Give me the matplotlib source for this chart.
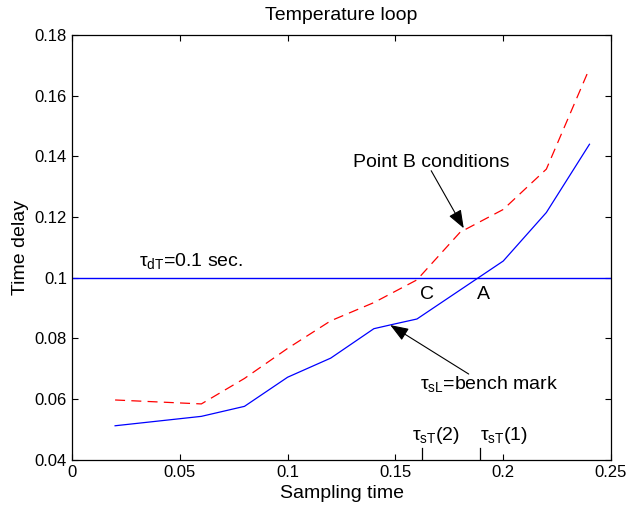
import matplotlib
matplotlib.use("Agg")
import matplotlib.pyplot as plt

plt.rcParams['font.family'] = ['Liberation Sans', 'DejaVu Sans']
plt.rcParams['mathtext.fontset'] = 'custom'
plt.rcParams['mathtext.rm'] = 'Liberation Sans'
plt.rcParams['mathtext.it'] = 'Liberation Sans'
plt.rcParams['mathtext.bf'] = 'Liberation Sans:bold'

# bench mark (solid blue)
x_bench = [0.02, 0.06, 0.08, 0.10, 0.12, 0.14, 0.148, 0.16, 0.20, 0.22, 0.24]
y_bench = [0.0512, 0.0543, 0.0576, 0.0672, 0.0735, 0.0832, 0.0845, 0.0864, 0.1055, 0.1215, 0.1440]

# point B conditions (dashed red)
x_pointb = [0.02, 0.06, 0.08, 0.10, 0.12, 0.14, 0.16, 0.18, 0.20, 0.22, 0.24]
y_pointb = [0.0597, 0.0584, 0.0668, 0.0767, 0.0858, 0.0918, 0.0993, 0.1150, 0.1225, 0.1358, 0.1690]

tau_dT = 0.1
tau_sT = [0.189, 0.1623]   # tau_sT(1), tau_sT(2)

xticks = [0, 0.05, 0.1, 0.15, 0.2, 0.25]
xticklabels = ['0', '0.05', '0.1', '0.15', '0.2', '0.25']
yticks = [0.04, 0.06, 0.08, 0.1, 0.12, 0.14, 0.16, 0.18]
yticklabels = ['0.04', '0.06', '0.08', '0.1', '0.12', '0.14', '0.16', '0.18']

fig = plt.figure(figsize=(6.28, 5.08), dpi=100)
ax = fig.add_axes([0.1146, 0.095, 0.973 - 0.1146, 0.931 - 0.095])

ax.plot(x_bench, y_bench, color='#0000ff', lw=0.9)
ax.plot(x_pointb, y_pointb, color='#ff0000', lw=0.9, linestyle=(0, (8, 5)))
ax.axhline(tau_dT, color='#0000ff', lw=1.0)

# tau_sT markers on the bottom axis
for xv in tau_sT:
    ax.plot([xv, xv], [0.04, 0.044], color='k', lw=0.9)

ax.set_xlim(0, 0.25)
ax.set_ylim(0.04, 0.18)
ax.set_xticks(xticks)
ax.set_xticklabels(xticklabels)
ax.set_yticks(yticks)
ax.set_yticklabels(yticklabels)
ax.tick_params(direction='in', top=True, right=True, length=4, width=0.8, labelsize=12)
for s in ax.spines.values():
    s.set_linewidth(0.9)

ax.set_title('Temperature loop', fontsize=14, pad=11)
ax.set_xlabel('Sampling time', fontsize=14, labelpad=4)
ax.set_ylabel('Time delay', fontsize=14, labelpad=4)

ax.text(0.0312, 0.1039, r'$\tau_{\mathrm{dT}}$=0.1 sec.', fontsize=14)
ax.text(0.1616, 0.093, 'C', fontsize=14)
ax.text(0.1876, 0.093, 'A', fontsize=14)
ax.text(0.1578, 0.0465, r'$\tau_{\mathrm{sT}}$(2)', fontsize=14)
ax.text(0.189, 0.0465, r'$\tau_{\mathrm{sT}}$(1)', fontsize=14)

ax.annotate('Point B conditions', xy=(0.1817, 0.1163), xytext=(0.1303, 0.1366),
            fontsize=14, va='baseline',
            arrowprops=dict(arrowstyle='-|>,head_length=0.8,head_width=0.3', color='k', lw=0.8,
                            shrinkA=0, shrinkB=0, patchA=None,
                            relpos=(0.5, 0)))
ax.annotate(r'$\tau_{\mathrm{sL}}$=bench mark', xy=(0.1476, 0.0844), xytext=(0.1616, 0.0633),
            fontsize=14, va='baseline',
            arrowprops=dict(arrowstyle='-|>,head_length=0.8,head_width=0.3', color='k', lw=0.8,
                            shrinkA=0, shrinkB=0, patchA=None,
                            relpos=(0.35, 1)))

fig.savefig('out.png', dpi=100)
